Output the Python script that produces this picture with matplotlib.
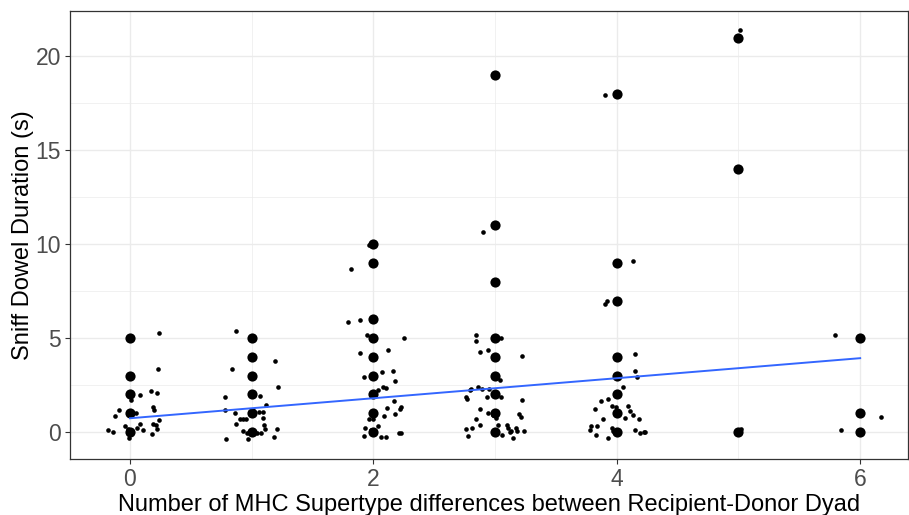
import numpy as np
import matplotlib.pyplot as plt

plt.rcParams['font.family'] = ['Liberation Sans', 'DejaVu Sans']

# observed values (large points)
obs_x = [0, 0, 0, 0, 0,
         1, 1, 1, 1, 1, 1,
         2, 2, 2, 2, 2, 2, 2, 2, 2,
         3, 3, 3, 3, 3, 3, 3, 3, 3,
         4, 4, 4, 4, 4, 4, 4, 4,
         5, 5, 5,
         6, 6, 6]
obs_y = [0, 1, 2, 3, 5,
         0, 1, 2, 3, 4, 5,
         0, 1, 2, 3, 4, 5, 6, 9, 10,
         0, 1, 2, 3, 4, 5, 8, 11, 19,
         0, 1, 2, 3, 4, 7, 9, 18,
         0, 14, 21,
         0, 1, 5]

# jittered points (small)
jit_x = [0.24, 0.23, 0.08, 0.17, 0.22, 0.01, -0.09, -0.12, 0.19, 0.20, 0.05, 0.24, 0.08,
         -0.04, 0.19, 0.21, -0.18, -0.14, 0.06, 0.11, 0.22, 0.18, -0.01, 0.02, -0.02,
         0.87, 0.84, 1.19, 1.22, 0.78, 1.07, 0.78, 0.86, 1.12, 1.09, 1.06, 1.09, 0.90,
         0.93, 0.95, 0.87, 0.93, 0.96, 1.10, 1.11, 1.21, 1.08, 0.79, 0.97, 1.18, 1.04,
         1.82, 1.96, 1.79, 1.89, 2.25, 1.95, 1.89, 2.12, 1.92, 2.07, 2.16, 2.18, 2.04,
         2.08, 2.10, 2.17, 2.23, 2.22, 2.11, 2.09, 2.18, 1.96, 2.00, 2.04, 1.93, 1.92,
         2.06, 2.10, 2.21, 2.23, 1.98,
         2.90, 2.84, 2.84, 3.05, 2.88, 2.94, 3.22, 3.04, 2.79, 2.80, 2.86, 2.89, 2.95,
         2.99, 3.05, 2.76, 2.77, 2.93, 3.22, 2.88, 2.94, 2.98, 3.20, 3.21, 2.84, 3.01,
         2.88, 2.76, 2.81, 2.78, 3.02, 3.10, 3.11, 3.13, 3.17, 3.18, 3.24, 3.06, 3.12, 3.15,
         3.90, 4.13, 3.90, 3.92, 4.15, 4.15, 4.17, 4.05, 3.87, 3.93, 3.82, 3.96, 3.99,
         4.09, 4.11, 4.13, 4.07, 4.18, 3.89, 3.79, 3.84, 3.78, 3.83, 3.93, 3.96, 3.97,
         4.15, 4.19, 4.22, 4.23,
         5.01, 5.02, 5.00,
         5.79, 5.84, 6.17]
jit_y = [5.28, 3.36, 1.97, 2.17, 2.10, 1.70, 1.17, 0.84, 1.35, 1.17, 1.03, 0.66, 0.43,
         0.34, 0.41, 0.36, 0.13, -0.02, 0.20, 0.11, 0.14, -0.11, -0.30, 0.05, 0.15,
         5.40, 3.36, 3.79, 2.38, 1.87, 1.92, 1.17, 1.03, 1.42, 1.07, 1.05, 0.76, 0.69,
         0.71, 0.67, 0.43, 0.04, -0.07, 0.39, 0.14, 0.16, -0.04, -0.39, -0.37, -0.27, -0.07,
         8.68, 9.96, 5.83, 5.94, 5.00, 5.19, 4.21, 4.34, 2.95, 3.18, 3.27, 2.72, 2.24,
         2.38, 2.32, 1.63, 1.35, 1.20, 1.26, 0.87, 0.94, 0.67, 0.67, 0.34, 0.21, -0.23,
         -0.27, -0.28, -0.04, -0.04, 0.10,
         10.65, 5.19, 4.83, 5.03, 4.25, 4.37, 4.05, 2.77, 2.22, 2.28, 2.38, 2.28, 2.31,
         2.06, 1.88, 1.88, 1.76, 1.87, 1.69, 1.23, 1.00, 0.91, 0.94, 0.80, 0.71, 0.73,
         0.37, 0.14, 0.20, -0.20, 0.37, 0.37, 0.20, 0.07, 0.20, 0.07, 0.04, -0.16, -0.02, -0.34,
         17.97, 9.12, 6.80, 6.99, 4.16, 3.24, 2.93, 2.42, 1.64, 1.74, 1.23, 1.40, 1.35,
         1.39, 1.12, 0.89, 0.76, 0.71, 0.71, 0.34, 0.34, 0.11, -0.16, -0.34, 0.20, 0.05,
         0.11, -0.04, -0.02, 0.00,
         21.39, 0.18, 0.05,
         5.14, 0.11, 0.80]

# linear fit
fit_x = [0, 6]
fit_y = [0.73, 3.93]

x_ticks = [0, 2, 4, 6]
y_ticks = [0, 5, 10, 15, 20]

fig = plt.figure(figsize=(9.09, 5.15), dpi=100)
ax = fig.add_axes([70/909, 1 - 459/515, 838/909, 448/515])

ax.scatter(jit_x, jit_y, s=11, color='black', linewidths=0, zorder=3)
ax.scatter(obs_x, obs_y, s=54, color='black', linewidths=0, zorder=3)
ax.plot(fit_x, fit_y, color='#3366FF', lw=1.4, zorder=4)

ax.set_xlim(-0.493, 6.393)
ax.set_ylim(-1.44, 22.42)
ax.set_xticks(x_ticks)
ax.set_yticks(y_ticks)
ax.set_xticks([1, 3, 5], minor=True)
ax.set_yticks([2.5, 7.5, 12.5, 17.5], minor=True)

ax.grid(True, which='major', color='#EBEBEB', lw=1.0, zorder=0)
ax.grid(True, which='minor', color='#EBEBEB', lw=0.5, zorder=0)
ax.set_axisbelow(True)
ax.tick_params(which='minor', length=0)
ax.tick_params(which='major', length=3.5, width=0.8, color='#333333',
               labelsize=16.5, labelcolor='#4D4D4D', pad=3)
for s in ax.spines.values():
    s.set_color('#333333')
    s.set_linewidth(0.9)

ax.set_xlabel('Number of MHC Supertype differences between Recipient-Donor Dyad',
              fontsize=17, labelpad=2)
ax.set_ylabel('Sniff Dowel Duration (s)', fontsize=17, labelpad=1)

fig.savefig('out.png', dpi=100)
